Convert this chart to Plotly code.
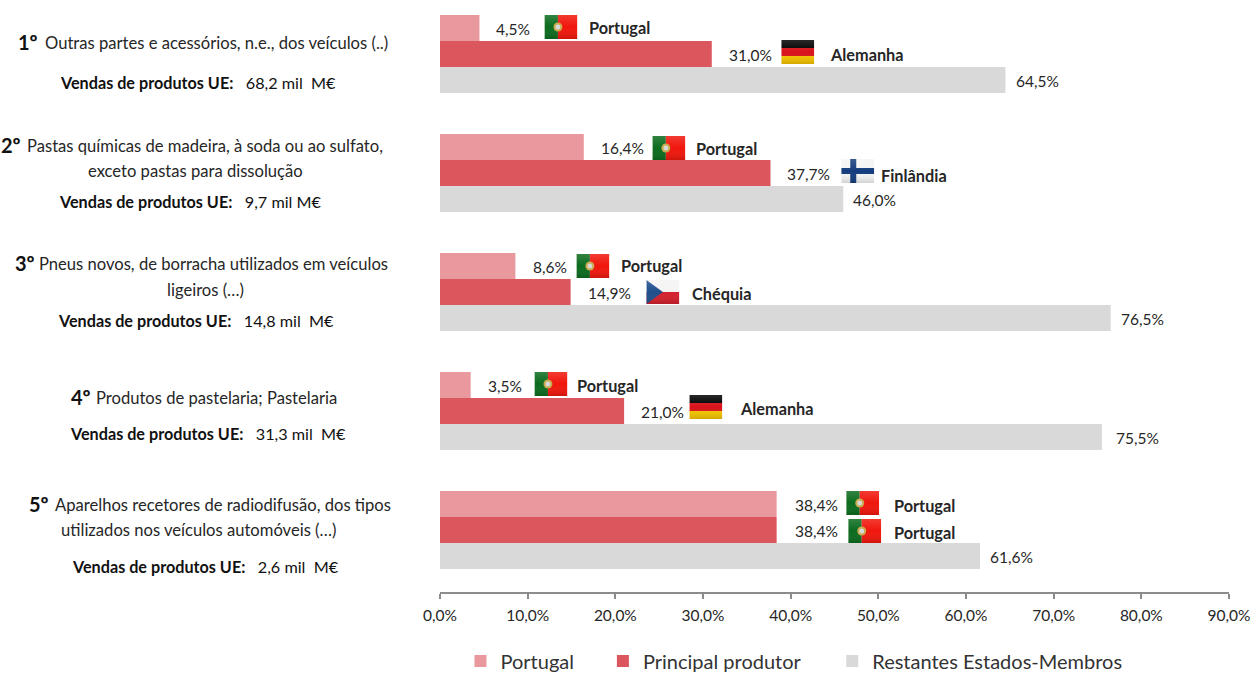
import base64
import plotly.graph_objects as go

# ---- data ----
ranks = ["1º", "2º", "3º", "4º", "5º"]
product_lines = [
    ["Outras partes e acessórios, n.e., dos veículos (..)"],
    ["Pastas químicas de madeira, à soda ou ao sulfato,", "exceto pastas para dissolução"],
    ["Pneus novos, de borracha utilizados em veículos", "ligeiros (…)"],
    ["Produtos de pastelaria; Pastelaria"],
    ["Aparelhos recetores de radiodifusão, dos tipos", "utilizados nos veículos automóveis (…)"],
]
sales = ["68,2 mil  M€", "9,7 mil M€", "14,8 mil  M€", "31,3 mil  M€", "2,6 mil  M€"]
portugal = [4.5, 16.4, 8.6, 3.5, 38.4]
principal = [31.0, 37.7, 14.9, 21.0, 38.4]
restantes = [64.5, 46.0, 76.5, 75.5, 61.6]
producers = ["Alemanha", "Finlândia", "Chéquia", "Alemanha", "Portugal"]
tick_values = [0, 10, 20, 30, 40, 50, 60, 70, 80, 90]
tick_labels = ["0,0%", "10,0%", "20,0%", "30,0%", "40,0%", "50,0%", "60,0%", "70,0%", "80,0%", "90,0%"]
series_names = ["Portugal", "Principal produtor", "Restantes Estados-Membros"]

# ---- layout constants ----
W, H = 1252, 673
X0, X90 = 439.5, 1229.0
AXIS_Y = 592
GROUP_H = 119.0
FIRST_C = 54.0
BAR_GAP = 0.345
BAR_FRAC = (1 - BAR_GAP) / 3
UNIT = (X90 - X0) / 90
FONT = "Lato"
TEXT = "#262626"
COLORS = ["#E9989E", "#DC565E", "#D9D9D9"]
SIZE = 15.5

def dx(px):
    return (px - X0) / UNIT
def dy(py):
    return (py - FIRST_C) / GROUP_H
def paper_x(px):
    return (px - X0) / (X90 - X0)

def svg_uri(body):
    svg = ('<svg xmlns="http://www.w3.org/2000/svg" width="66" height="48" viewBox="0 0 66 48">'
           '<defs><linearGradient id="s" x1="0" y1="0" x2="0" y2="1">'
           '<stop offset="0" stop-color="#fff" stop-opacity="0.16"/>'
           '<stop offset="0.5" stop-color="#fff" stop-opacity="0"/>'
           '<stop offset="1" stop-color="#000" stop-opacity="0.14"/></linearGradient></defs>'
           + body + '<rect x="0" y="0" width="66" height="48" fill="url(#s)"/></svg>')
    return "data:image/svg+xml;base64," + base64.b64encode(svg.encode()).decode()

FLAGS = {
    "Portugal": svg_uri('<rect width="27" height="48" fill="#0B6B1E"/><rect x="27" width="39" height="48" fill="#F0160C"/>'
                        '<circle cx="27" cy="24" r="9" fill="#C9A94A"/><circle cx="27" cy="24" r="5" fill="#D8D8D8"/>'),
    "Alemanha": svg_uri('<rect width="66" height="16" fill="#000000"/><rect y="16" width="66" height="16" fill="#D8141A"/>'
                        '<rect y="32" width="66" height="16" fill="#F5C400"/>'),
    "Finlândia": svg_uri('<rect width="66" height="48" fill="#F4F4F4"/><rect x="18" width="12" height="48" fill="#143C7D"/>'
                         '<rect y="18" width="66" height="12" fill="#143C7D"/>'),
    "Chéquia": svg_uri('<rect width="66" height="24" fill="#F4F4F4"/><rect y="24" width="66" height="24" fill="#D3202C"/>'
                       '<polygon points="0,0 33,24 0,48" fill="#1F4E8C"/>'),
}

# pixel placement of value label / flag / country name, per bar
label_left = [[494, 727, 1014], [599, 785, 851], [531, 586, 1119], [486, 639, 1114], [793, 793, 988]]
flag_left = [[544, 781], [652, 841], [576, 646], [534, 689], [846, 848]]
flag_top = [[15, 40], [136, 159], [254, 280], [372, 395], [491, 519]]
name_left = [[587, 828], [694, 879], [619, 690], [575, 738], [892, 892]]
name_y = [[27, 54], [148, 175], [265, 293], [385, 408], [505, 532]]
FLAG_W, FLAG_H = 33, 24

# pixel placement of the left hand text
line_pos = [[(215.5, 43)], [(204.5, 146), (194.5, 171)], [(212.5, 264), (205, 290)], [(216, 398)], [(222, 505), (198, 530)]]
rank_x = [27, 10.5, 24.5, 80, 38]
sales_pos = [(197.5, 82), (190, 201), (195, 320), (207, 433), (204.5, 566)]
legend_left = [460, 602.5, 832]

fig = go.Figure()
idx = list(range(len(ranks)))
legend_ids = ["legend", "legend2", "legend3"]
for name, vals, col, lid in zip(series_names, [portugal, principal, restantes], COLORS, legend_ids):
    fig.add_trace(go.Bar(x=vals, y=idx, orientation="h", name=name, legend=lid, showlegend=True,
                         marker=dict(color=col, line=dict(width=0)), hoverinfo="skip"))

annotations = []
images = []
def note(x, y, text, size=SIZE, anchor="left", color=TEXT, xref="x"):
    annotations.append(dict(x=x, y=y, xref=xref, yref="y", text=text, showarrow=False,
                            xanchor=anchor, yanchor="middle", align=anchor,
                            font=dict(family=FONT, size=size, color=color)))

for i in idx:
    for j, vals in enumerate([portugal, principal, restantes]):
        yc = i + (j - 1) * BAR_FRAC
        note(dx(label_left[i][j]), yc + 0.012, f"{vals[i]:.1f}%".replace(".", ","))
    countries = ["Portugal", producers[i]]
    for k in range(2):
        note(dx(name_left[i][k]), dy(name_y[i][k]), f"<b>{countries[k]}</b>", size=16.3)
        images.append(dict(source=FLAGS[countries[k]], xref="x", yref="y",
                           x=dx(flag_left[i][k]), y=dy(flag_top[i][k]),
                           sizex=FLAG_W / UNIT, sizey=FLAG_H / GROUP_H,
                           xanchor="left", yanchor="top", sizing="stretch", layer="above"))
    for k, line in enumerate(product_lines[i]):
        cx, py = line_pos[i][k]
        note(paper_x(cx), dy(py), line, anchor="center", size=16.6, xref="paper")
    note(paper_x(rank_x[i]), dy(line_pos[i][0][1] - 1), f"<b>{ranks[i]}</b>", size=20, anchor="center", color="#111111", xref="paper")
    cx, py = sales_pos[i]
    note(paper_x(cx), dy(py), f"<b>Vendas de produtos UE:</b>   {sales[i]}", anchor="center", size=16.2, color="#111111", xref="paper")

legends = {}
for lid, left in zip(legend_ids, legend_left):
    legends[lid] = dict(orientation="h", x=paper_x(left), xanchor="left", y=-(661 - AXIS_Y) / AXIS_Y, yanchor="middle",
                        font=dict(family=FONT, size=20, color="#333333"), itemwidth=30, bgcolor="rgba(0,0,0,0)")

fig.update_layout(
    width=W, height=H, barmode="group", bargap=BAR_GAP, bargroupgap=0, showlegend=True,
    margin=dict(l=X0, r=W - X90, t=0, b=H - AXIS_Y, autoexpand=False),
    paper_bgcolor="white", plot_bgcolor="white",
    font=dict(family=FONT, size=SIZE, color=TEXT),
    xaxis=dict(range=[0, 90], tickmode="array", tickvals=tick_values, ticktext=tick_labels,
               showgrid=False, zeroline=False, showline=True, linecolor="#8C8C8C", linewidth=2,
               ticks="outside", ticklen=5, tickwidth=1.5, tickcolor="#8C8C8C", ticklabelstandoff=3,
               tickfont=dict(family=FONT, size=SIZE, color=TEXT)),
    yaxis=dict(range=[dy(AXIS_Y), dy(0)], visible=False),
    annotations=annotations, images=images,
    **legends,
)
fig.write_html("out.html", config={"displayModeBar": False},
               post_script="document.body.style.margin='0';document.body.style.overflow='hidden';")
